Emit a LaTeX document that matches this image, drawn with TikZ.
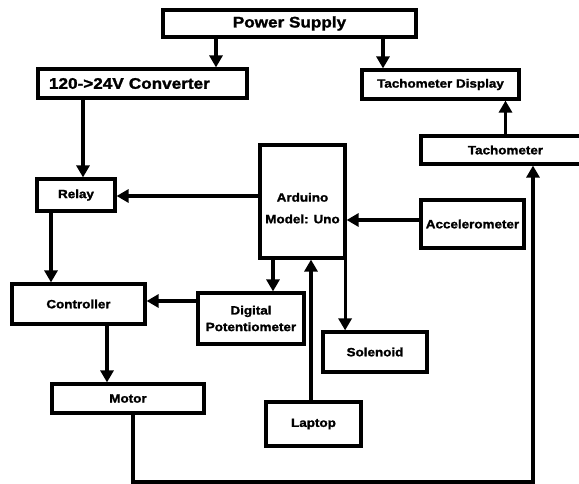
\documentclass[tikz,border=0pt]{standalone}
\usepackage{fontspec}
\usepackage{tikz}
\usetikzlibrary{arrows.meta, positioning, calc}
\newfontfamily\blkfont{Liberation Sans}[FakeStretch=1.12, FakeBold=1.6]

\begin{document}
\begin{tikzpicture}[
    x=1pt, y=-1pt,
    box/.style={draw, line width=3.2pt, minimum width=3cm, minimum height=1cm, inner sep=0pt, align=center, font=\blkfont\bfseries\fontsize{12}{14}\selectfont},
    bigbox/.style={box, font=\blkfont\bfseries\fontsize{15.3}{18}\selectfont},
    arrow/.style={-{Triangle[length=12pt, width=13pt]}, line width=3.2pt}
]

\useasboundingbox (0,0) rectangle (579,484);

% Versorgung
\node[bigbox, minimum width=253, minimum height=27] (psu) at (289.5, 23.5) {Power Supply};
\node[bigbox, minimum width=209, minimum height=29, inner xsep=11pt, text width=187pt, align=left] (conv) at (142.5, 83.5) {120->24V Converter};
\node[box, minimum width=157, minimum height=29] (tachdisp) at (440.5, 84.5) {Tachometer Display};
\node[box, minimum width=169, minimum height=28] (tach) at (505.5, 150) {Tachometer};

\draw[arrow] ([xshift=-73.5]psu.south) -- ([xshift=-73.5]psu.south |- conv.north);
\draw[arrow] ([xshift=93.5]psu.south) -- ([xshift=93.5]psu.south |- tachdisp.north);
\draw[arrow] (tach.north) -- (tach.north |- tachdisp.south);

% Steuerung
\node[box, minimum width=85, minimum height=113] (ard) at (302.5, 201.5) {\rule{0pt}{22pt}Arduino\\[7.6pt]Model: Uno};
\node[box, minimum width=78, minimum height=32] (relay) at (76, 195) {Relay};
\node[box, minimum width=133, minimum height=40] (ctrl) at (78.5, 304) {Controller};
\node[box, minimum width=106, minimum height=51] (dpot) at (251, 318.5) {Digital\\[2.6pt]Potentiometer};
\node[box, minimum width=104, minimum height=40] (sol) at (375, 352) {Solenoid};
\node[box, minimum width=103, minimum height=48] (accel) at (472.5, 224) {Accelerometer};
\node[box, minimum width=152, minimum height=29] (motor) at (128, 398.5) {Motor};
\node[box, minimum width=95, minimum height=44] (laptop) at (313.5, 424) {Laptop};

\draw[arrow] ([xshift=-59.5]conv.south) -- ([xshift=-59.5]conv.south |- relay.north);
\draw[arrow] ([yshift=-1]ard.west |- relay.east) -- ([yshift=-1]relay.east);
\draw[arrow] ([xshift=-25]relay.south) -- ([xshift=-25]relay.south |- ctrl.north);
\draw[arrow] ([xshift=-29.5]ard.south) -- ([xshift=-29.5]ard.south |- dpot.north);
\draw[arrow] ([yshift=3]ctrl.east -| dpot.west) -- ([yshift=3]ctrl.east);
\draw[arrow] ([xshift=-1.5]ard.south east) -- ([xshift=-1.5]ard.south east |- sol.north);
\draw[arrow] ([yshift=4]accel.west) -- ([yshift=4]accel.west -| ard.east);
\draw[arrow] ([xshift=-2.5]laptop.north) -- ([xshift=-2.5]laptop.north |- ard.south);
\draw[arrow] ([xshift=28.5]ctrl.south) -- ([xshift=28.5]ctrl.south |- motor.north);

% Rueckfuehrung
\coordinate (bend) at (533, 482);
\draw[arrow] ([xshift=5]motor.south) |- (bend) -- (bend |- tach.south);

\end{tikzpicture}
\end{document}
